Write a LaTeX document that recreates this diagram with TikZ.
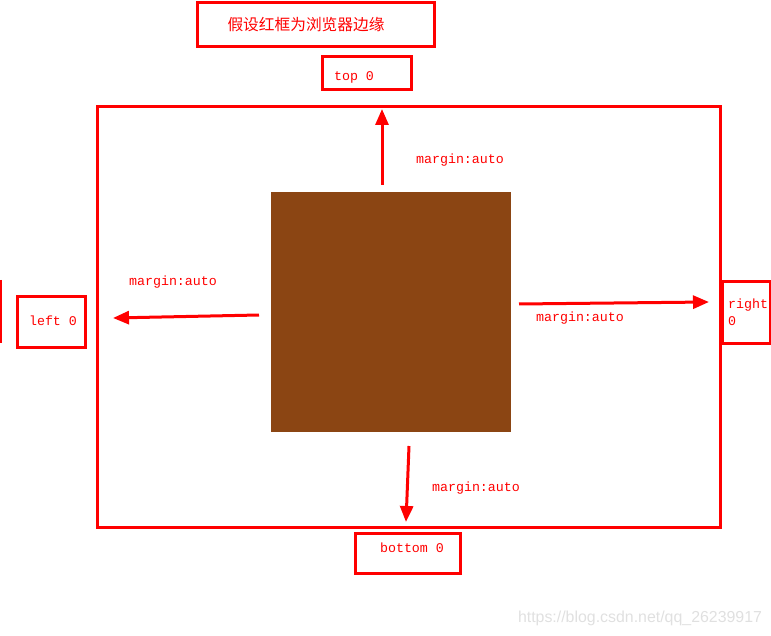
\documentclass[tikz,border=0pt]{standalone}
\usepackage{fontspec}
\setmonofont{Liberation Mono}
\newfontfamily\cjk{Noto Sans CJK SC}
\newfontfamily\markfont{Liberation Sans}
\usetikzlibrary{arrows.meta}
\definecolor{elembrown}{HTML}{8B4513}
\tikzstyle{redbox} = [draw=red, line width=3pt, rectangle, inner sep=0pt]
\tikzstyle{redlabel} = [text=red, font=\ttfamily\fontsize{13.3}{16}\selectfont, inner sep=0pt]
\tikzstyle{redarrow} = [draw=red, line width=3pt, -{Triangle[length=16pt,width=13pt]}]

\begin{document}
\begin{tikzpicture}[x=1pt,y=-1pt]
    \useasboundingbox (0,0) rectangle (771,636);
    % title
    \node [redbox, minimum width=237pt, minimum height=44pt] (titlebox) at (315.5,25) {};
    \node [text=red, font=\cjk\fontsize{15.7}{18}\selectfont, inner sep=0pt] (titletext) at (306,25) {假设红框为浏览器边缘};
    % browser edge and the element
    \node [redbox, minimum width=623pt, minimum height=420pt] (browser) at (408.5,317) {};
    \node [fill=elembrown, minimum size=240pt, inner sep=0pt] (elem) at (391,312) {};
    % outside boxes
    \node [redbox, minimum width=89pt, minimum height=33pt] (topbox) at (366.5,73.5) {};
    \node [redlabel] (toptext) at (354,77) {top 0};
    \node [redbox, minimum width=68pt, minimum height=50pt] (leftbox) at (51,322) {};
    \node [redlabel] (lefttext) at (53,321) {left 0};
    \node [redbox, minimum width=48pt, minimum height=61pt] (rightbox) at (746,312.5) {};
    \node [redlabel, anchor=west] (righttext) at (728,305) {right};
    \node [redlabel, anchor=west] (rightzero) at (728,321) {0};
    \node [redbox, minimum width=105pt, minimum height=40pt] (bottombox) at (407.5,553) {};
    \node [redlabel] (bottomtext) at (412,548) {bottom 0};
    \draw [red, line width=2pt] (1,280) -- (1,343);
    % arrows
    \coordinate (upS) at (382,185);   \coordinate (upE) at (382,109);
    \coordinate (leftS) at (259,315); \coordinate (leftE) at (113,318);
    \coordinate (rightS) at (519,304); \coordinate (rightE) at (709,302);
    \coordinate (downS) at (409,446); \coordinate (downE) at (406,522);
    \draw [redarrow] (upS) -- (upE);
    \draw [redarrow] (leftS) -- (leftE);
    \draw [redarrow] (rightS) -- (rightE);
    \draw [redarrow] (downS) -- (downE);
    \node [redlabel] (uplabel) at (460,160) {margin:auto};
    \node [redlabel] (leftlabel) at (173,282) {margin:auto};
    \node [redlabel] (rightlabel) at (580,318) {margin:auto};
    \node [redlabel] (downlabel) at (476,488) {margin:auto};
    % watermark
    \node [text=black!12, font=\markfont\fontsize{15.9}{18}\selectfont, inner sep=0pt] (mark) at (640,618) {https://blog.csdn.net/qq\_26239917};
\end{tikzpicture}
\end{document}
